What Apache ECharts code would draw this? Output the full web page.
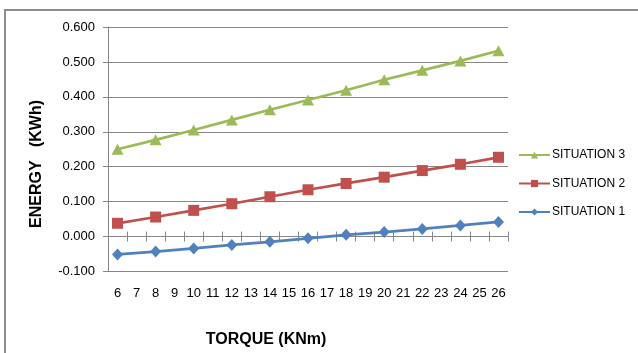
<!DOCTYPE html>
<html>
<head>
<meta charset="utf-8">
<script src="https://cdn.jsdelivr.net/npm/echarts@6/dist/echarts.min.js"></script>
<style>
html,body{margin:0;padding:0;background:#fff;}
#chart{width:638px;height:353px;}
</style>
</head>
<body>
<div id="chart"></div>
<script>
// Data
var categories = ['6','7','8','9','10','11','12','13','14','15','16','17','18','19','20','21','22','23','24','25','26'];
var situation3 = [0.250, null, 0.277, null, 0.305, null, 0.334, null, 0.363, null, 0.391, null, 0.419, null, 0.449, null, 0.476, null, 0.503, null, 0.532];
var situation2 = [0.038, null, 0.056, null, 0.075, null, 0.094, null, 0.114, null, 0.134, null, 0.152, null, 0.170, null, 0.189, null, 0.207, null, 0.227];
var situation1 = [-0.051, null, -0.043, null, -0.034, null, -0.024, null, -0.015, null, -0.005, null, 0.005, null, 0.013, null, 0.022, null, 0.032, null, 0.042];
var yTicks = { min: -0.1, max: 0.6, interval: 0.1 };
var seriesNames = ['SITUATION 1', 'SITUATION 2', 'SITUATION 3'];

var FONT = 'Liberation Sans';
var chart = echarts.init(document.getElementById('chart'));
var gray = '#868686';

chart.setOption({
  backgroundColor: '#ffffff',
  animation: false,
  textStyle: { fontFamily: FONT },
  graphic: [
    { type: 'rect', shape: { x: 5, y: 10, width: 700, height: 400 }, style: { fill: 'none', stroke: '#8c8c8c', lineWidth: 2 } },
    { type: 'text', x: 37, y: 164, rotation: Math.PI / 2,
      style: { text: 'ENERGY   (KWh)', font: 'bold 16px "Liberation Sans"', fill: '#000', align: 'center', verticalAlign: 'middle' } },
    { type: 'text', x: 266, y: 340,
      style: { text: 'TORQUE (KNm)', font: 'bold 16px "Liberation Sans"', fill: '#000', align: 'center', verticalAlign: 'middle' } }
  ],
  grid: { left: 108, top: 27, right: 130, bottom: 81.5, containLabel: false },
  legend: {
    orient: 'vertical', left: 518, top: 149, padding: 0,
    data: ['SITUATION 3', 'SITUATION 2', 'SITUATION 1'],
    itemWidth: 31, itemHeight: 9, itemGap: 16.5,
    textStyle: { fontFamily: FONT, fontSize: 12, color: '#000', padding: [0, 0, 0, -3] }
  },
  xAxis: [
    { type: 'category', data: categories, position: 'bottom', boundaryGap: true,
      axisLine: { show: false, onZero: false }, axisTick: { show: false }, splitLine: { show: false },
      axisLabel: { fontSize: 13, color: '#000', margin: 15, interval: 0, fontFamily: FONT } },
    { type: 'category', data: categories, position: 'bottom', boundaryGap: true,
      axisLine: { show: true, onZero: true, onZeroAxisIndex: 0, lineStyle: { color: gray, width: 1 } },
      axisTick: { show: true, inside: false, length: 5, interval: 0, lineStyle: { color: gray } },
      axisLabel: { show: false }, splitLine: { show: false } },
    { type: 'category', data: categories, position: 'bottom', boundaryGap: true,
      axisLine: { show: false, onZero: true, onZeroAxisIndex: 0 },
      axisTick: { show: true, inside: true, length: 5, interval: 0, lineStyle: { color: gray } },
      axisLabel: { show: false }, splitLine: { show: false } }
  ],
  yAxis: {
    type: 'value', min: yTicks.min, max: yTicks.max, interval: yTicks.interval,
    axisLine: { show: true, onZero: false, lineStyle: { color: gray } },
    axisTick: { show: true, length: 5, lineStyle: { color: gray } },
    splitLine: { show: true, lineStyle: { color: gray, width: 1 } },
    axisLabel: { fontSize: 13, color: '#000', margin: 13, fontFamily: FONT,
      formatter: function (v) { return v.toFixed(3); } }
  },
  series: [
    { name: 'SITUATION 1', type: 'line', xAxisIndex: 0, data: situation1, connectNulls: true,
      symbol: 'diamond', symbolSize: [11, 12], color: '#4F81BD',
      lineStyle: { width: 2.75, color: '#4F81BD' }, itemStyle: { color: '#4F81BD' } },
    { name: 'SITUATION 2', type: 'line', xAxisIndex: 0, data: situation2, connectNulls: true,
      symbol: 'rect', symbolSize: 11, color: '#C0504D',
      lineStyle: { width: 2.75, color: '#C0504D' }, itemStyle: { color: '#C0504D' } },
    { name: 'SITUATION 3', type: 'line', xAxisIndex: 0, data: situation3, connectNulls: true,
      symbol: 'triangle', symbolSize: [12, 11], color: '#9BBB59',
      lineStyle: { width: 2.75, color: '#9BBB59' }, itemStyle: { color: '#9BBB59' } }
  ]
});
</script>
</body>
</html>
